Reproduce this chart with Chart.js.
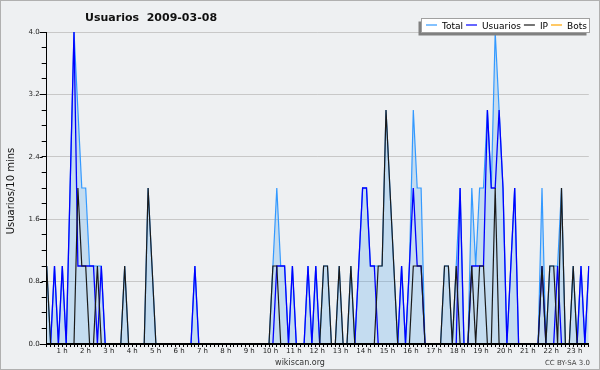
<!DOCTYPE html>
<html>
<head>
<meta charset="utf-8">
<script src="https://cdn.jsdelivr.net/npm/chart.js@4.4.0/dist/chart.umd.min.js"></script>
<style>
  html, body { margin: 0; padding: 0; background: #eef0f2; }
  #wrap { width: 600px; height: 370px; }
</style>
</head>
<body>
<div id="wrap"><canvas id="chart" width="600" height="370"></canvas></div>
<script>
const chartTitle = "Usuarios  2009-03-08";
const yTitle = "Usuarios/10 mins";
const hourLabels = ["1 h", "2 h", "3 h", "4 h", "5 h", "6 h", "7 h", "8 h", "9 h", "10 h", "11 h", "12 h",
  "13 h", "14 h", "15 h", "16 h", "17 h", "18 h", "19 h", "20 h", "21 h", "22 h", "23 h"];

// one value per 10 minutes, two hours per row
const total = [
  1, 0, 1, 0, 1, 0, 2, 4, 3, 2, 2, 1,
  1, 1, 1, 0, 0, 0, 0, 0, 1, 0, 0, 0,
  0, 0, 2, 1, 0, 0, 0, 0, 0, 0, 0, 0,
  0, 0, 1, 0, 0, 0, 0, 0, 0, 0, 0, 0,
  0, 0, 0, 0, 0, 0, 0, 0, 0, 0, 1, 2,
  1, 1, 0, 1, 0, 0, 0, 1, 0, 1, 0, 1,
  1, 0, 0, 1, 0, 0, 1, 0, 1, 2, 2, 1,
  1, 1, 1, 3, 2, 1, 0, 1, 0, 1, 3, 2,
  2, 0, 0, 0, 0, 0, 1, 1, 0, 1, 2, 0,
  0, 2, 1, 2, 2, 3, 2, 4, 3, 2, 0, 1,
  2, 0, 0, 0, 0, 0, 0, 2, 0, 1, 1, 1,
  2, 0, 0, 1, 0, 1, 0, 1
];
const usuarios = [
  0, 0, 1, 0, 1, 0, 2, 4, 1, 1, 1, 1,
  1, 0, 1, 0, 0, 0, 0, 0, 0, 0, 0, 0,
  0, 0, 0, 0, 0, 0, 0, 0, 0, 0, 0, 0,
  0, 0, 1, 0, 0, 0, 0, 0, 0, 0, 0, 0,
  0, 0, 0, 0, 0, 0, 0, 0, 0, 0, 0, 1,
  1, 1, 0, 1, 0, 0, 0, 1, 0, 1, 0, 0,
  0, 0, 0, 0, 0, 0, 0, 0, 1, 2, 2, 1,
  1, 0, 0, 0, 0, 0, 0, 1, 0, 1, 2, 1,
  1, 0, 0, 0, 0, 0, 0, 0, 0, 0, 2, 0,
  0, 1, 1, 1, 1, 3, 2, 2, 3, 2, 0, 1,
  2, 0, 0, 0, 0, 0, 0, 1, 0, 0, 0, 1,
  0, 0, 0, 0, 0, 1, 0, 1
];
const ip = [
  1, 0, 0, 0, 0, 0, 0, 0, 2, 1, 1, 0,
  0, 1, 0, 0, 0, 0, 0, 0, 1, 0, 0, 0,
  0, 0, 2, 1, 0, 0, 0, 0, 0, 0, 0, 0,
  0, 0, 0, 0, 0, 0, 0, 0, 0, 0, 0, 0,
  0, 0, 0, 0, 0, 0, 0, 0, 0, 0, 1, 1,
  0, 0, 0, 0, 0, 0, 0, 0, 0, 0, 0, 1,
  1, 0, 0, 1, 0, 0, 1, 0, 0, 0, 0, 0,
  0, 1, 1, 3, 2, 1, 0, 0, 0, 0, 1, 1,
  1, 0, 0, 0, 0, 0, 1, 1, 0, 1, 0, 0,
  0, 1, 0, 1, 1, 0, 0, 2, 0, 0, 0, 0,
  0, 0, 0, 0, 0, 0, 0, 1, 0, 1, 1, 0,
  2, 0, 0, 1, 0, 0, 0, 0
];
const bots = [
  0, 0, 0, 0, 0, 0, 0, 0, 0, 0, 0, 0,
  0, 0, 0, 0, 0, 0, 0, 0, 0, 0, 0, 0,
  0, 0, 0, 0, 0, 0, 0, 0, 0, 0, 0, 0,
  0, 0, 0, 0, 0, 0, 0, 0, 0, 0, 0, 0,
  0, 0, 0, 0, 0, 0, 0, 0, 0, 0, 0, 0,
  0, 0, 0, 0, 0, 0, 0, 0, 0, 0, 0, 0,
  0, 0, 0, 0, 0, 0, 0, 0, 0, 0, 0, 0,
  0, 0, 0, 0, 0, 0, 0, 0, 0, 0, 0, 0,
  0, 0, 0, 0, 0, 0, 0, 0, 0, 0, 0, 0,
  0, 0, 0, 0, 0, 0, 0, 0, 0, 0, 0, 0,
  0, 0, 0, 0, 0, 0, 0, 0, 0, 0, 0, 0,
  0, 0, 0, 0, 0, 0, 0, 0
];

// category labels: time of each 10 min slot
const slots = [];
for (let i = 0; i < total.length; i++) {
  const h = Math.floor(i / 6), m = (i % 6) * 10;
  slots.push(String(h).padStart(2, "0") + ":" + String(m).padStart(2, "0"));
}

const FONT = '"DejaVu Sans", sans-serif';
const isMajor = (v) => Math.round(v * 10) % 8 === 0;

const decor = {
  id: "decor",
  beforeDraw(chart) {
    const ctx = chart.ctx;
    ctx.save();
    ctx.fillStyle = "#eef0f2";
    ctx.fillRect(0, 0, chart.width, chart.height);
    ctx.restore();
  },
  afterDraw(chart) {
    const ctx = chart.ctx;
    ctx.save();

    // longer marks on the labelled y ticks
    const ys = chart.scales.y;
    ctx.strokeStyle = "#000";
    ctx.lineWidth = 1;
    ys.ticks.forEach((t) => {
      if (!isMajor(t.value)) return;
      const py = Math.round(ys.getPixelForValue(t.value)) + 0.5;
      ctx.beginPath();
      ctx.moveTo(ys.right - 7, py);
      ctx.lineTo(ys.right - 4, py);
      ctx.stroke();
    });

    ctx.fillStyle = "#111";
    ctx.textBaseline = "alphabetic";

    // title
    ctx.font = "bold 11px " + FONT;
    ctx.fillText(chartTitle, 85, 21);

    // y axis title
    ctx.save();
    ctx.translate(13.5, 191);
    ctx.rotate(-Math.PI / 2);
    ctx.font = "10px " + FONT;
    ctx.textAlign = "center";
    ctx.fillText(yTitle, 0, 0);
    ctx.restore();

    // legend box with shadow
    const bx = 421.5, by = 18.5, bw = 168, bh = 14;
    ctx.fillStyle = "#808080";
    ctx.fillRect(bx - 3, by + 3, bw, bh);
    ctx.fillStyle = "#fff";
    ctx.fillRect(bx, by, bw, bh);
    ctx.strokeStyle = "#a0a0a0";
    ctx.lineWidth = 1;
    ctx.strokeRect(bx, by, bw, bh);

    ctx.font = "9px " + FONT;
    let x = 426;
    chart.data.datasets.forEach((ds) => {
      ctx.strokeStyle = ds.borderColor;
      ctx.lineWidth = 1.2;
      ctx.beginPath();
      ctx.moveTo(x, 25);
      ctx.lineTo(x + 11, 25);
      ctx.stroke();
      x += 16;
      ctx.fillStyle = "#000";
      ctx.fillText(ds.label, x, 28.5);
      x += ctx.measureText(ds.label).width + 3;
    });

    // credits
    ctx.fillStyle = "#333";
    ctx.font = "8px " + FONT;
    ctx.textAlign = "center";
    ctx.fillText("wikiscan.org", 300, 365);
    ctx.font = "7px " + FONT;
    ctx.textAlign = "right";
    ctx.fillStyle = "#444";
    ctx.fillText("CC BY-SA 3.0", 590, 365);

    // frame
    ctx.strokeStyle = "#b0b0b0";
    ctx.lineWidth = 1;
    ctx.strokeRect(0.5, 0.5, chart.width - 1, chart.height - 1);
    ctx.restore();
  }
};

new Chart(document.getElementById("chart"), {
  type: "line",
  data: {
    labels: slots,
    datasets: [
      {
        label: "Total",
        data: total,
        borderColor: "#3399ff",
        backgroundColor: "rgba(78,164,234,0.26)",
        fill: "origin",
        borderWidth: 1.2,
        order: 3
      },
      {
        label: "Usuarios",
        data: usuarios,
        borderColor: "#0000ff",
        borderWidth: 1.3,
        fill: false,
        order: 1
      },
      {
        label: "IP",
        data: ip,
        borderColor: "#1a1a1a",
        borderWidth: 1.2,
        fill: false,
        order: 0
      },
      {
        label: "Bots",
        data: bots,
        borderColor: "#ffa500",
        borderWidth: 1.2,
        fill: false,
        order: 2
      }
    ]
  },
  options: {
    responsive: false,
    animation: false,
    devicePixelRatio: 1,
    layout: { padding: { top: 32, right: 11.2, left: 0, bottom: 0 } },
    elements: { point: { radius: 0 }, line: { tension: 0 } },
    plugins: {
      legend: { display: false },
      title: { display: false },
      tooltip: { enabled: false }
    },
    scales: {
      x: {
        type: "category",
        offset: false,
        afterFit: (scale) => { scale.height = 26; },
        border: { display: true, color: "#000", width: 2, z: 1 },
        grid: {
          display: true,
          drawOnChartArea: false,
          drawTicks: true,
          tickLength: 3,
          tickColor: "#000"
        },
        ticks: {
          autoSkip: false,
          maxRotation: 0,
          minRotation: 0,
          align: "end",
          labelOffset: -2.5,
          padding: 0,
          color: "#222",
          font: { family: FONT, size: 7 },
          callback: (v, i) => (i > 0 && i % 6 === 0 ? hourLabels[i / 6 - 1] : "")
        }
      },
      y: {
        type: "linear",
        min: 0,
        max: 4,
        afterFit: (scale) => { scale.width = 46.7; },
        border: { display: true, color: "#000", width: 1, z: 1 },
        grid: {
          color: (c) => (c.tick && isMajor(c.tick.value) ? "#c8c8c8" : "rgba(0,0,0,0)"),
          tickColor: "#000",
          tickLength: 5,
          lineWidth: 1
        },
        ticks: {
          stepSize: 0.2,
          padding: 2,
          color: "#222",
          font: { family: FONT, size: 7 },
          callback: (v) => (isMajor(v) ? v.toFixed(1) : "")
        }
      }
    }
  },
  plugins: [decor]
});
</script>
</body>
</html>
